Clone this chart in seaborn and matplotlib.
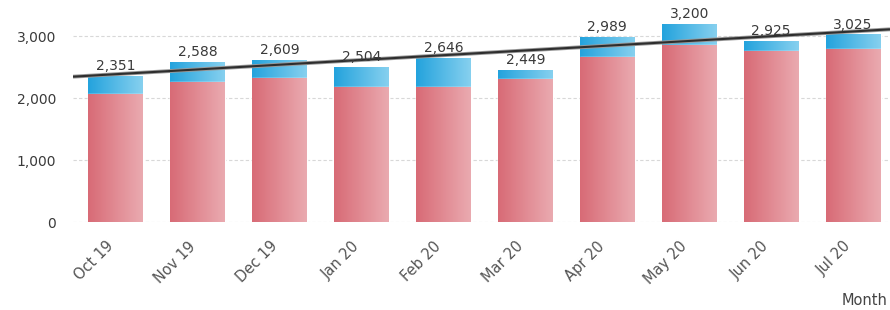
import numpy as np
import pandas as pd
import seaborn as sns
import matplotlib.pyplot as plt
import matplotlib.transforms as mtransforms
from matplotlib.colors import LinearSegmentedColormap

# Data
months = ["Oct 19", "Nov 19", "Dec 19", "Jan 20", "Feb 20",
          "Mar 20", "Apr 20", "May 20", "Jun 20", "Jul 20"]
totals = [2351, 2588, 2609, 2504, 2646, 2449, 2989, 3200, 2925, 3025]
base = [2065, 2260, 2325, 2180, 2180, 2305, 2660, 2855, 2760, 2790]

RED_L, RED_R = "#d86b76", "#eaaab0"
BLUE_L, BLUE_R = "#24a3dd", "#86d0ef"


def gradient_fill(ax, patches, c_left, c_right):
    """Paint a left-to-right gradient inside each bar patch."""
    cmap = LinearSegmentedColormap.from_list("g", [c_left, c_right])
    grad = np.linspace(0, 1, 64).reshape(1, -1)
    for p in patches:
        x0, y0 = p.get_x(), p.get_y()
        w, h = p.get_width(), p.get_height()
        im = ax.imshow(grad, cmap=cmap, aspect="auto", interpolation="bicubic",
                       extent=(x0, x0 + w, y0, y0 + h), zorder=p.get_zorder())
        im.set_clip_path(p)
        p.set_facecolor("none")


def main():
    df = pd.DataFrame({"Month": months, "Total": totals, "Base": base})
    sns.set_style("white")
    plt.rcParams["font.family"] = ["DejaVu Sans"]

    fig = plt.figure(figsize=(8.9, 3.1), dpi=100)
    ax = fig.add_axes([73 / 890, 88 / 310, (890 - 73) / 890, 217 / 310])

    sns.barplot(data=df, x="Month", y="Total", color=BLUE_L, width=0.67,
                saturation=1, ax=ax, zorder=2)
    n_top = len(ax.patches)
    sns.barplot(data=df, x="Month", y="Base", color=RED_L, width=0.67,
                saturation=1, ax=ax, zorder=3)
    top_bars = ax.patches[:n_top]
    red_bars = ax.patches[n_top:]

    ax.set_xlim(-0.52, 9.45)
    ax.set_ylim(0, 3500)
    gradient_fill(ax, top_bars, BLUE_L, BLUE_R)
    gradient_fill(ax, red_bars, RED_L, RED_R)

    # linear trend of totals
    xs = np.arange(len(totals))
    slope, icpt = np.polyfit(xs, totals, 1)
    xl = np.array([-0.52, 9.45])
    ax.plot(xl, icpt + slope * xl, color="#9a9a9a", lw=2.8, zorder=4,
            solid_capstyle="butt")
    ax.plot(xl, icpt + slope * xl, color="#2e2e2e", lw=1.5, zorder=5,
            solid_capstyle="butt")

    for i, t in enumerate(totals):
        ax.annotate(f"{t:,}", (i, t), xytext=(0, 2), textcoords="offset points",
                    ha="center", va="bottom", fontsize=10, color="#3a3a3a",
                    zorder=6)

    ax.set_yticks([0, 1000, 2000, 3000])
    ax.set_yticklabels([f"{v:,}" for v in [0, 1000, 2000, 3000]])
    ax.yaxis.grid(True, linestyle=(0, (3, 2)), color="#d8d8d8", lw=0.8)
    ax.set_axisbelow(True)
    for s in ax.spines.values():
        s.set_visible(False)
    ax.tick_params(axis="y", length=0, pad=12, labelsize=10, labelcolor="#3a3a3a")
    ax.tick_params(axis="x", length=0, pad=12, labelsize=10.5, labelcolor="#555555")
    shift = mtransforms.ScaledTranslation(-0.1, 0, fig.dpi_scale_trans)
    for lbl in ax.get_xticklabels():
        lbl.set_rotation(45)
        lbl.set_ha("right")
        lbl.set_rotation_mode("anchor")
        lbl.set_transform(lbl.get_transform() + shift)
    ax.set_xlabel("")
    ax.set_ylabel("")
    fig.text(0.997, 0.03, "Month", ha="right", va="center", fontsize=10.5,
             color="#444444")

    fig.savefig("out.png", dpi=100)


if __name__ == "__main__":
    main()
